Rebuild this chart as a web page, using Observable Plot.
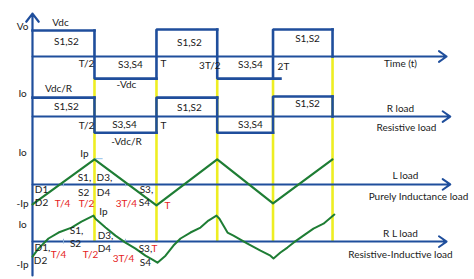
<!DOCTYPE html>
<html>
<head>
<meta charset="utf-8">
<script src="https://cdn.jsdelivr.net/npm/d3@7"></script>
<script src="https://cdn.jsdelivr.net/npm/@observablehq/plot@0.6"></script>
<style>
  html, body { margin: 0; padding: 0; background: #fff; }
  svg { display: block; }
</style>
</head>
<body>
<div id="chart"></div>
<script>
// Single-phase full-bridge inverter: output voltage and load current waveforms.
// Time is in units of the period T; levels are relative to each trace's baseline.

// Switching instants (0, T/2, T, 3T/2, 2T, 5T/2) as drawn
const switchTimes = [0, 0.5, 1.0, 1.49, 1.94, 2.42];

// Baseline of each trace: Vo, R load, L load, RL load
const traceBase = [0, -2.31, -4.92, -7.12];

// Where each time axis arrow ends
const axisEnd = [3.34, 3.37, 3.37, 3.34];

// Output voltage level in each half period (+Vdc / -Vdc)
const voLevel = [1.0, -0.85, 1.04, -0.85, 1.04];
// End of each drawn level segment (the -Vdc segment before 2T runs slightly past it)
const voSegEnd = [0.5, 1.0, 1.49, 2.0, 2.42];

// Resistive load current in each half period (+Vdc/R / -Vdc/R)
const ioRLevel = [0.73, -0.62, 0.73, -0.62, 0.77];

// Purely inductive load current at each switching instant (triangle wave)
const ioLPeak = [-0.77, 0.96, -0.81, 0.96, -0.73, 0.96];

// Resistive-inductive load current (exponential segments)
const rlTime = [0.000, 0.048, 0.129, 0.210, 0.315, 0.395, 0.492, 0.508, 0.589, 0.669,
                0.750, 0.831, 0.911, 0.968, 1.008, 1.073, 1.137, 1.194, 1.274, 1.355,
                1.419, 1.484, 1.508, 1.573, 1.621, 1.734, 1.839, 1.919, 1.944, 2.000,
                2.056, 2.105, 2.185, 2.266, 2.347, 2.435];
const rlCurrent = [-0.58, -0.27, 0.12, 0.35, 0.54, 0.77, 1.00, 0.88, 0.54, 0.23,
                   -0.04, -0.27, -0.54, -0.69, -0.81, -0.54, -0.15, 0.12, 0.35, 0.54,
                   0.81, 1.00, 0.88, 0.35, 0.23, -0.08, -0.35, -0.54, -0.65, -0.42,
                   -0.23, -0.04, 0.23, 0.50, 0.69, 1.04];

// Top of each yellow switching marker (they all run down to the RL baseline)
const markerTop = [-0.85, -0.85, -0.85, -0.82, 0];

// Quarter-period ticks on the current axes
const quarterTicks = [0.25, 0.75];

// Annotations: trace index, time, level, text
const labelTrace = [0, 0, 0, 0, 0, 0, 0, 0, 0, 0, 0, 0, 0,
                    1, 1, 1, 1, 1, 1, 1, 1, 1, 1, 1, 1,
                    2, 2, 2, 2, 2, 2, 2, 2, 2, 2, 2, 2, 2,
                    3, 3, 3, 3, 3, 3, 3, 3, 3, 3, 3, 3, 3];
const labelTime = [-0.08, 0.226, 0.274, 0.435, 0.79, 0.758, 1.056, 1.266, 1.43, 1.758, 2.024, 2.218, 2.968,
                   -0.08, 0.21, 0.274, 0.435, 0.742, 1.056, 0.758, 1.266, 1.758, 2.218, 2.968, 3.016,
                   -0.08, 0.419, 0.419, 0.413, 0.58, 0.573, 0.073, 0.073, -0.08, 0.919, 0.903, 3.008, 3.113,
                   -0.08, 0.573, 0.355, 0.347, 0.08, 0.065, -0.08, 0.589, 0.58, 0.911, 0.911, 2.968, 2.968];
const labelLevel = [1.15, 1.31, 0.58, -0.27, -0.31, -1.08, -0.27, 0.54, -0.35, -0.31, -0.38, 0.69, -0.27,
                    0.88, 1.08, 0.39, -0.34, -0.31, -0.34, -0.96, 0.35, -0.31, 0.50, 0.31, -0.42,
                    1.23, 1.19, 0.27, -0.31, 0.27, -0.31, -0.19, -0.69, -0.73, -0.19, -0.69, 0.34, -0.46,
                    0.66, 1.15, 0.42, -0.08, -0.23, -0.73, -0.88, 0.23, -0.27, -0.27, -0.81, 0.31, -0.50];
const labelText = ["Vo", "Vdc", "S1,S2", "T/2", "S3,S4", "-Vdc", "T", "S1,S2", "3T/2", "S3,S4", "2T", "S1,S2", "Time (t)",
                   "Io", "Vdc/R", "S1,S2", "T/2", "S3,S4", "T", "-Vdc/R", "S1,S2", "S3,S4", "S1,S2", "R load", "Resistive load",
                   "Io", "Ip", "S1,", "S2", "D3,", "D4", "D1", "D2", "-Ip", "S3,", "S4", "L load", "Purely Inductance load",
                   "Io", "Ip", "S1,", "S2", "D1,", "D2", "-Ip", "D3,", "D4", "S3,", "S4", "R L load", "Resistive-Inductive load"];

// Red time markers on the current traces
const markTrace = [2, 2, 2, 2, 3, 3, 3, 3];
const markTime = [0.242, 0.435, 0.758, 1.089, 0.21, 0.468, 0.734, 0.984];
const markLevel = [-0.73, -0.73, -0.73, -0.81, -0.50, -0.50, -0.65, -0.27];
const markText = ["T/4", "T/2", "3T/4", "T", "T/4", "T/2", "3T/4", "T"];

// ---- build drawable rows from the arrays above ----
const blue = "#1f4e9c";
const green = "#1e7d34";
const yellow = "#eeee22";
const red = "#e52222";

// stepped waveform: one level per half period, edges at the switching instants
function stepRows(levels, segEnd, base, closeToBase) {
  const rows = [];
  levels.forEach((v, k) => {
    const t0 = switchTimes[k];
    if (k > 0) rows.push({t: t0, y: base + levels[k - 1], s: k});
    rows.push({t: t0, y: base + v, s: k});
    rows.push({t: segEnd[k], y: base + v, s: k});
  });
  const last = levels.length - 1;
  if (closeToBase) {
    rows.push({t: switchTimes[last + 1], y: base + levels[last], s: last + 1});
    rows.push({t: switchTimes[last + 1], y: base, s: last + 1});
  }
  return rows;
}

const voRows = stepRows(voLevel, voSegEnd, traceBase[0], true);
const ioRRows = stepRows(ioRLevel, switchTimes.slice(1), traceBase[1], true);
const ioLRows = ioLPeak.map((v, k) => ({t: switchTimes[k], y: traceBase[2] + v}));
const ioRLRows = rlTime.map((t, k) => ({t, y: traceBase[3] + rlCurrent[k]}));

const markerRows = markerTop.map((v, k) => ({t: switchTimes[k + 1], y1: v, y2: traceBase[3]}));
const axisRows = traceBase.map((b, k) => ({x1: 0, x2: axisEnd[k], y: b}));
const tickRows = [2, 3].flatMap(p => quarterTicks.map(t => ({t, y1: traceBase[p] - 0.09, y2: traceBase[p] + 0.09})));

const labelRows = labelText.map((text, k) => ({
  t: labelTime[k], y: traceBase[labelTrace[k]] + labelLevel[k], text
}));
const markRows = markText.map((text, k) => ({
  t: markTime[k], y: traceBase[markTrace[k]] + markLevel[k], text
}));

const chart = Plot.plot({
  width: 474,
  height: 279,
  margin: 0,
  x: {domain: [-0.258, 3.565], axis: null},
  y: {domain: [-8.577, 2.154], axis: null},
  style: {fontFamily: "Lato, 'Liberation Sans', sans-serif", fontSize: "10px", background: "#fff"},
  marks: [
    // switching instants
    Plot.ruleX(markerRows, {x: "t", y1: "y1", y2: "y2", stroke: yellow, strokeWidth: 2.6}),
    // time axes
    Plot.arrow(axisRows, {x1: "x1", x2: "x2", y1: "y", y2: "y", stroke: blue, strokeWidth: 2, headLength: 7, headAngle: 70}),
    // vertical axis shared by all traces
    Plot.arrow([{y1: traceBase[3] - 1.30, y2: 1.65}], {x1: 0, x2: 0, y1: "y1", y2: "y2", stroke: blue, strokeWidth: 2.2, headLength: 7, headAngle: 75}),
    // quarter-period ticks
    Plot.ruleX(tickRows, {x: "t", y1: "y1", y2: "y2", stroke: "#8fb4d8", strokeWidth: 1}),
    Plot.ruleY([traceBase[2] + 0.99], {x1: 0.5, x2: 0.57, stroke: "#8fc0ea", strokeWidth: 1}),
    // output voltage and resistive current
    Plot.line(voRows, {x: "t", y: "y", z: "s", stroke: blue, strokeWidth: 2.6, strokeLinejoin: "miter", strokeLinecap: "square"}),
    Plot.line(ioRRows, {x: "t", y: "y", z: "s", stroke: blue, strokeWidth: 2.6, strokeLinejoin: "miter", strokeLinecap: "square"}),
    // inductive and resistive-inductive currents
    Plot.line(ioLRows, {x: "t", y: "y", stroke: green, strokeWidth: 2.2}),
    Plot.line(ioRLRows, {x: "t", y: "y", stroke: green, strokeWidth: 2}),
    // annotations
    Plot.text(labelRows, {x: "t", y: "y", text: "text", fill: "#1a1a1a"}),
    Plot.text(markRows, {x: "t", y: "y", text: "text", fill: red})
  ]
});

document.getElementById("chart").appendChild(chart);
</script>
</body>
</html>
